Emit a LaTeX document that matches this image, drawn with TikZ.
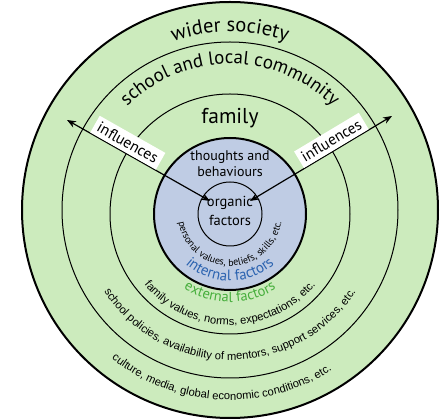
\documentclass[tikz,border=0pt]{standalone}
\usepackage{fontspec}
\setmainfont{PT Sans}
\newfontfamily\arialfont{Liberation Sans}
\usetikzlibrary{decorations.text,arrows.meta}
\definecolor{ringgreen}{HTML}{CCEBBD}
\definecolor{coreblue}{HTML}{BFCCE4}
\definecolor{intblue}{HTML}{2B63B0}
\definecolor{extgreen}{HTML}{46AE3C}
\tikzset{
  ring/.style={draw,line width=1pt},
  bold ring/.style={draw,line width=2pt},
  curvetext/.style={decorate,decoration={text along path,text align=center,text={#1}}},
  influence/.style={{Stealth[length=9pt,width=7pt]}-{Stealth[length=9pt,width=7pt]},line width=1.2pt},
  influencebox/.style={fill=white,inner xsep=4pt,inner ysep=4pt,sloped,above,
    font=\fontsize{15.5}{15.5}\selectfont},
}
\begin{document}
\begin{tikzpicture}[x=1pt,y=1pt]
  \useasboundingbox (0,0) rectangle (440,420);
  \begin{scope}[shift={(230,210)}]
    \fill[ringgreen] (0,0) circle[radius=208pt];
    \draw[bold ring] (0,0) circle[radius=208pt];
    \draw[ring] (0,0) circle[radius=168pt];
    \path[curvetext={|\fontsize{20.5}{20.5}\selectfont|wider society}]
      (140:178pt) arc[start angle=140,end angle=40,radius=178pt];
    \path[curvetext={|\fontsize{19}{19}\selectfont|school and local community}]
      (155:146pt) arc[start angle=155,end angle=25,radius=146pt];
    \path[curvetext={|\arialfont\fontsize{11.2}{11.2}\selectfont|school policies, availability of mentors, support services, etc.}]
      (190:150pt) arc[start angle=190,end angle=350,radius=150pt];
    \path[curvetext={|\arialfont\fontsize{11.2}{11.2}\selectfont|culture, media, global economic conditions, etc.}]
      (200:190pt) arc[start angle=200,end angle=334,radius=190pt];
  \end{scope}
  \begin{scope}[shift={(230,206)}]
    \draw[ring] (0,0) circle[radius=120pt];
    \draw[bold ring,fill=coreblue] (0,0) circle[radius=76pt];
    \draw[ring] (0,0) circle[radius=32pt];

    \coordinate (outL) at (-163,94);
    \coordinate (inL) at (-20,13);
    \coordinate (inR) at (20,13);
    \coordinate (outR) at (162,98);
    \draw[influence] (outL) -- node[influencebox,pos=0.39] (boxL) {influences} (inL);
    \draw[influence] (inR) -- node[influencebox,pos=0.61] (boxR) {influences} (outR);

    \node (family) at (0,96) [font=\fontsize{21.5}{21.5}\selectfont] {family};
    \node (thoughts) at (0,50) [align=center,font=\fontsize{14}{16}\selectfont] {thoughts and\\behaviours};
    \node (organic) at (0,3) [align=center,font=\fontsize{14.5}{19}\selectfont] {organic\\factors};

    \path[curvetext={|\fontsize{10}{10}\selectfont|personal values, beliefs, skills, etc.}]
      (180:52pt) arc[start angle=180,end angle=360,radius=52pt];
    \path[curvetext={|\color{intblue}\fontsize{15}{15}\selectfont|internal factors}]
      (200:67pt) arc[start angle=200,end angle=340,radius=67pt];
    \path[curvetext={|\color{extgreen}\fontsize{14.5}{14.5}\selectfont|external factors}]
      (205:88pt) arc[start angle=205,end angle=335,radius=88pt];
    \path[curvetext={|\arialfont\fontsize{11.2}{11.2}\selectfont|family values, norms, expectations, etc.}]
      (195:111pt) arc[start angle=195,end angle=345,radius=111pt];
  \end{scope}
\end{tikzpicture}
\end{document}
